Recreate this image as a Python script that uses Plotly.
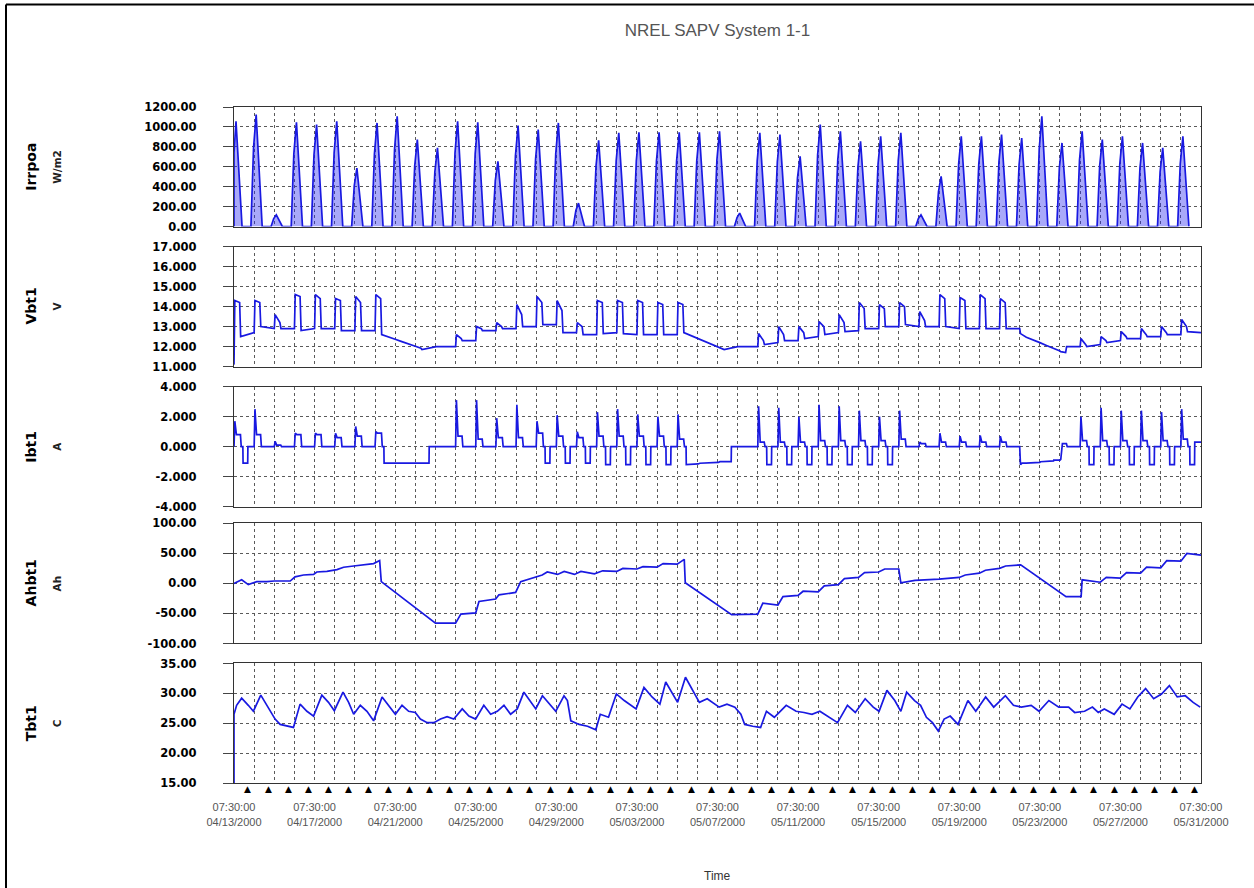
import numpy as np
import pandas as pd
import plotly.graph_objects as go
from plotly.subplots import make_subplots

START = pd.Timestamp("2000-04-13 07:30:00")
N_DAYS = 48

# ---------------- Irrpoa (W/m2): per-day readings ----------------
irr_peak = [1057, 1124, 117, 1047, 1023, 1057, 587, 1040, 1107, 872, 789, 1057,
            1047, 654, 1013, 973, 1040, 235, 866, 940, 946, 946, 946, 946,
            956, 134, 940, 923, 705, 1023, 956, 856, 906, 940, 117, 503,
            906, 906, 923, 889, 1107, 839, 956, 872, 906, 839, 789, 906]
irr_am = [740, 790, 80, 730, 720, 740, 410, 730, 780, 610, 550, 740,
          730, 460, 710, 680, 730, 160, 610, 660, 660, 660, 660, 660,
          670, 90, 660, 650, 490, 720, 670, 600, 630, 660, 80, 350,
          630, 630, 650, 620, 780, 590, 670, 610, 630, 590, 550, 630]
irr_pm = [530, 560, 60, 520, 510, 530, 290, 520, 550, 440, 400, 530,
          520, 330, 510, 490, 520, 120, 430, 470, 470, 470, 470, 470,
          480, 70, 470, 460, 350, 510, 480, 430, 450, 470, 60, 250,
          450, 450, 460, 440, 550, 420, 480, 440, 450, 420, 390, 450]
irr_night = [0] * N_DAYS

# ---------------- Vbt1 (V): per-day readings ----------------
vbt_start = [11.1, 12.7, 12.9, 12.9, 12.9, 12.9, 12.8, 12.8, 12.37, 12.02, 12.0, 12.0,
             12.3, 12.8, 12.9, 13.0, 13.1, 12.7, 12.6, 12.7, 12.6, 12.6, 12.6, 12.42,
             12.0, 12.0, 12.0, 12.2, 12.3, 12.5, 12.7, 12.8, 12.9, 13.0, 13.0, 13.0,
             12.9, 12.9, 12.9, 12.9, 12.2, 11.78, 12.0, 12.1, 12.3, 12.4, 12.5, 12.6]
vbt_on = [14.3, 14.3, 13.6, 14.6, 14.6, 14.4, 14.5, 14.6, 12.36, 12.0, 12.0, 12.6,
          13.0, 13.2, 14.1, 14.5, 14.3, 13.2, 14.3, 14.3, 14.3, 14.2, 14.2, 12.40,
          11.98, 12.0, 12.65, 13.0, 13.0, 13.25, 13.6, 14.2, 14.1, 14.2, 13.75, 14.6,
          14.45, 14.6, 14.4, 12.65, 12.18, 11.75, 12.4, 12.5, 12.75, 12.9, 13.0, 13.35]
vbt_off = [14.2, 14.2, 13.2, 14.5, 14.4, 14.3, 14.2, 14.4, 12.27, 11.92, 12.0, 12.4,
           12.9, 13.0, 13.6, 14.2, 13.8, 13.0, 14.2, 14.2, 14.2, 14.1, 14.1, 12.30,
           11.88, 12.0, 12.3, 12.6, 12.7, 13.0, 13.2, 13.9, 13.9, 14.0, 13.3, 14.4,
           14.3, 14.4, 14.2, 12.5, 12.08, 11.7, 12.1, 12.3, 12.5, 12.6, 12.7, 13.0]
vbt_eve = [12.5, 13.0, 12.9, 12.8, 12.9, 12.8, 12.8, 12.6, 12.25, 11.85, 12.0, 12.3,
           12.8, 12.9, 13.0, 13.1, 12.7, 12.6, 12.65, 12.65, 12.6, 12.6, 12.7, 12.28,
           11.85, 12.0, 12.1, 12.3, 12.4, 12.6, 12.75, 12.9, 13.0, 13.1, 13.0, 13.0,
           12.9, 12.9, 12.9, 12.47, 12.06, 12.0, 12.0, 12.2, 12.4, 12.5, 12.6, 12.75]
vbt_end = 12.7

# ---------------- Ibt1 (A): per-day readings ----------------
ibt_peak = [1.7, 2.5, 0.35, 0.9, 0.9, 0.9, 1.35, 1.0, -1.1, -1.1, 0.0, 3.1,
            3.1, 1.9, 2.8, 1.7, 2.1, 1.0, 2.3, 2.5, 2.15, 2.0, 2.15, -1.15,
            -1.05, 0.0, 2.7, 2.6, 2.0, 2.8, 2.7, 2.4, 2.0, 2.4, 0.3, 0.9,
            0.7, 0.75, 0.7, -1.2, -1.0, -0.85, 2.0, 2.6, 2.4, 2.4, 2.3, 2.5]
ibt_mid = [0.8, 0.8, 0.1, 0.8, 0.8, 0.6, 0.7, 0.9, -1.1, -1.1, 0.0, 0.7,
           0.5, 0.6, 0.6, 0.9, 0.7, 0.6, 0.7, 0.7, 0.7, 0.7, 0.5, -1.1,
           -1.0, 0.0, 0.3, 0.3, 0.3, 0.4, 0.4, 0.4, 0.4, 0.5, 0.2, 0.3,
           0.3, 0.3, 0.3, -1.1, -1.0, 0.2, 0.4, 0.4, 0.4, 0.4, 0.4, 0.5]
ibt_eve = [-1.1, 0.0, 0.0, 0.0, 0.0, 0.0, 0.0, -1.1, -1.1, -1.1, 0.0, 0.0,
           0.0, 0.0, 0.0, -1.1, -1.1, -1.1, -1.2, -1.2, -1.2, -1.2, -1.2, -1.1,
           -1.0, 0.0, -1.2, -1.2, -1.2, -1.2, -1.2, -1.2, -1.2, 0.0, 0.0, 0.0,
           0.0, 0.0, 0.0, -1.1, -0.95, 0.0, -1.2, -1.2, -1.2, -1.2, -1.2, -1.2]
ibt_night = [0.0, 0.0, 0.0, 0.0, 0.0, 0.0, 0.0, -1.1, -1.1, 0.0, 0.0, 0.0,
             0.0, 0.0, 0.0, 0.0, 0.0, 0.0, 0.0, 0.0, 0.0, 0.0, -1.2, -1.1,
             0.0, 0.0, 0.0, 0.0, 0.0, 0.0, 0.0, 0.0, 0.0, 0.0, 0.0, 0.0,
             0.0, 0.0, 0.0, -1.05, -0.9, 0.0, 0.0, 0.0, 0.0, 0.0, 0.0, 0.3]

# ---------------- Ahbt1 (Ah): readings (day offset, value) ----------------
ah_day = [0.0, 0.38, 0.71, 1.13, 1.63, 2.0, 2.79, 3.03, 3.45, 3.95, 4.11, 4.61,
          5.11, 5.44, 5.94, 6.35, 6.93, 7.23, 7.31, 10.0, 11.0, 11.26, 12.0, 12.16,
          12.99, 13.15, 13.98, 14.23, 14.97, 15.3, 15.55, 16.06, 16.39, 16.9, 17.22, 17.89,
          18.3, 19.0, 19.3, 20.0, 20.3, 21.0, 21.3, 22.0, 22.35, 22.4, 24.7, 26.0,
          26.25, 27.0, 27.25, 28.0, 28.25, 29.0, 29.3, 30.0, 30.3, 31.0, 31.3, 32.0,
          32.3, 33.0, 33.1, 33.8, 35.0, 36.0, 36.3, 37.0, 37.3, 38.0, 38.3, 39.05,
          41.3, 42.05, 42.1, 42.5, 43.0, 43.3, 44.0, 44.3, 45.0, 45.3, 46.0, 46.3,
          47.0, 47.3, 48.0]
ah_val = [0, 6, -2, 3, 3, 4, 4, 11, 14, 15, 19, 20,
          23, 27, 29, 31, 33, 38, 3, -66, -66, -51, -49, -30,
          -26, -19, -15, 3, 11, 14, 19, 15, 20, 15, 20, 16,
          21, 20, 25, 24, 28, 27, 33, 32, 40, 1, -52, -51,
          -33, -36, -22, -20, -13, -14, -4, -2, 8, 10, 18, 19,
          24, 24, 1, 5, 7, 10, 14, 17, 22, 25, 29, 31,
          -22, -22, 6, 4, 2, 10, 9, 18, 17, 27, 26, 38,
          37, 50, 47]

# ---------------- Tbt1 (C): readings (day offset, value) ----------------
tbt_day = [0.0, 0.0, 0.13, 0.38, 0.71, 0.96, 1.33, 1.63, 2.04, 2.29, 2.62, 2.95,
           3.28, 3.62, 3.95, 4.36, 4.69, 4.98, 5.41, 5.69, 5.94, 6.27, 6.6, 6.93,
           7.35, 7.68, 8.01, 8.34, 8.67, 9.0, 9.25, 9.59, 9.92, 10.25, 10.58, 10.91,
           11.33, 11.66, 11.99, 12.4, 12.74, 13.07, 13.4, 13.73, 14.06, 14.39, 14.73, 14.98,
           15.31, 15.64, 15.97, 16.38, 16.55, 16.72, 17.13, 17.55, 17.96, 18.18, 18.59, 18.98,
           19.37, 19.96, 20.35, 20.75, 21.14, 21.43, 21.73, 22.02, 22.41, 22.8, 23.1, 23.49,
           24.08, 24.47, 24.86, 25.16, 25.35, 25.75, 26.14, 26.43, 26.82, 27.41, 27.9, 28.29,
           28.69, 29.08, 29.47, 29.96, 30.45, 30.84, 31.33, 31.73, 32.02, 32.41, 32.8, 33.1,
           33.39, 33.78, 34.08, 34.37, 34.67, 34.96, 35.25, 35.55, 35.94, 36.43, 36.82, 37.31,
           37.71, 38.29, 38.69, 39.08, 39.57, 39.96, 40.45, 40.94, 41.43, 41.73, 42.22, 42.61,
           42.9, 43.2, 43.69, 44.08, 44.47, 44.86, 45.25, 45.65, 46.04, 46.43, 46.82, 47.22,
           47.61, 47.96]
tbt_val = [15.0, 26.5, 28.0, 29.2, 28.0, 27.0, 29.7, 28.0, 25.7, 24.8, 24.5, 24.3,
           28.2, 27.0, 26.2, 29.7, 28.5, 27.1, 30.2, 28.5, 26.5, 28.0, 27.0, 25.4,
           29.4, 28.0, 26.5, 28.0, 27.0, 26.8, 25.7, 25.1, 25.1, 25.7, 26.1, 25.7,
           27.4, 26.2, 25.7, 28.0, 26.5, 27.0, 28.0, 26.5, 27.4, 30.2, 28.5, 27.4,
           29.6, 28.2, 27.0, 29.6, 28.8, 25.4, 24.8, 24.5, 23.9, 26.5, 26.0, 29.9,
           28.8, 27.4, 31.0, 29.4, 28.2, 31.9, 30.2, 28.5, 32.7, 30.2, 28.5, 29.1,
           27.7, 28.2, 27.7, 26.5, 24.8, 24.5, 24.3, 27.0, 26.0, 28.0, 27.0, 26.8,
           26.5, 27.0, 26.2, 25.1, 28.0, 26.8, 29.1, 27.7, 27.0, 30.5, 28.8, 27.0,
           30.2, 28.8, 28.0, 26.0, 25.1, 23.7, 25.7, 26.2, 24.8, 28.8, 27.0, 29.4,
           27.7, 29.6, 28.0, 27.7, 28.0, 27.0, 28.8, 27.7, 27.7, 26.8, 27.0, 27.7,
           26.8, 27.4, 26.5, 28.2, 27.4, 29.4, 30.8, 29.1, 29.9, 31.3, 29.4, 29.6,
           28.5, 27.7]

# ---------------- axis setup ----------------
irr_ticks = [0, 200, 400, 600, 800, 1000, 1200]
vbt_ticks = [11, 12, 13, 14, 15, 16, 17]
ibt_ticks = [-4, -2, 0, 2, 4]
ah_ticks = [-100, -50, 0, 50, 100]
tbt_ticks = [15, 20, 25, 30, 35]
series_names = ["Irrpoa", "Vbt1", "Ibt1", "Ahbt1", "Tbt1"]
series_units = ["W/m2", "V", "A", "Ah", "C"]
x_label_every_days = 4


def daily(points, end_value=None):
    xs, ys = [], []
    for d in range(N_DAYS):
        for off, vals in points:
            xs.append(min(max(d + off, 0.0), float(N_DAYS)))
            ys.append(vals[d])
    if end_value is not None:
        xs.append(float(N_DAYS))
        ys.append(end_value)
    return xs, ys


def to_time(days):
    return START + pd.to_timedelta(np.asarray(days, dtype=float), unit="D")


irr_x, irr_y = daily([(-0.16, irr_night), (-0.03, irr_am), (0.10, irr_peak),
                      (0.24, irr_pm), (0.40, irr_night)])
vbt_x, vbt_y = daily([(0.0, vbt_start), (0.04, vbt_on), (0.28, vbt_off),
                      (0.33, vbt_eve)], vbt_end)
ibt_prev = [0.0] + ibt_night[:-1]
ibt_base = [0.0 if m >= 0 else m for m in ibt_mid]
ibt_x, ibt_y = daily([(0.0, ibt_prev), (0.04, ibt_peak), (0.12, ibt_mid),
                      (0.32, ibt_mid), (0.36, ibt_base), (0.44, ibt_base),
                      (0.45, ibt_eve), (0.68, ibt_eve), (0.69, ibt_night)],
                     ibt_night[-1])

# pixel layout
W, H = 1254, 888
PL, PR = 234, 1201
PT, PB = 107.3, 782.7
row_px = [(107.3, 226.7), (246.7, 366.7), (386.7, 506.7), (523.3, 643.3), (663.3, 782.7)]


def py(p):
    return (PB - p) / (PB - PT)


def px(p):
    return (p - PL) / (PR - PL)


fig = make_subplots(rows=5, cols=1, shared_xaxes=True, vertical_spacing=0.02)

LINE = dict(color="rgb(25,25,225)", width=1.7)
fig.add_trace(go.Scatter(x=to_time(irr_x), y=irr_y, mode="lines", line=LINE,
                         fill="tozeroy", fillcolor="rgba(40,40,240,0.40)"), row=1, col=1)
fig.add_trace(go.Scatter(x=to_time(vbt_x), y=vbt_y, mode="lines", line=LINE), row=2, col=1)
fig.add_trace(go.Scatter(x=to_time(ibt_x), y=ibt_y, mode="lines", line=LINE), row=3, col=1)
fig.add_trace(go.Scatter(x=to_time(ah_day), y=ah_val, mode="lines", line=LINE), row=4, col=1)
fig.add_trace(go.Scatter(x=to_time(tbt_day), y=tbt_val, mode="lines", line=LINE), row=5, col=1)

GRID = "#5a5a5a"
DASH = "3px,3px"
DAY_MS = 86400000
end_time = START + pd.Timedelta(days=N_DAYS)
tick0 = START.strftime("%Y-%m-%d %H:%M:%S")

for i in range(1, 6):
    fig.update_xaxes(
        row=i, col=1, type="date",
        range=[START, end_time],
        tick0=tick0, dtick=x_label_every_days * DAY_MS,
        tickformat="%H:%M:%S<br>%m/%d/%Y",
        showticklabels=(i == 5), ticks="",
        tickfont=dict(family="Liberation Sans", size=11, color="#555"),
        ticklabelstandoff=14,
        showgrid=True, gridcolor=GRID, griddash=DASH, gridwidth=1,
        minor=dict(dtick=DAY_MS, tick0=tick0,
                   showgrid=True, gridcolor=GRID, griddash=DASH, gridwidth=1),
        showline=True, mirror=True, linecolor="#333", linewidth=1.2,
    )

ycfg = [(irr_ticks, 2), (vbt_ticks, 3), (ibt_ticks, 3), (ah_ticks, 2), (tbt_ticks, 2)]
annotations = []
for i, ((ticks, ndec), (top, bot)) in enumerate(zip(ycfg, row_px), start=1):
    fig.update_yaxes(
        row=i, col=1, range=[ticks[0], ticks[-1]], tickvals=ticks,
        ticktext=[f"{t:.{ndec}f}" for t in ticks],
        domain=[py(bot), py(top)],
        ticks="outside", ticklen=10, tickcolor="#444",
        tickfont=dict(family="DejaVu Sans", size=11.5, color="black", weight="bold"),
        ticklabelstandoff=24,
        showgrid=True, gridcolor=GRID, griddash=DASH, gridwidth=1,
        zeroline=False,
        showline=True, mirror=True, linecolor="#333", linewidth=1.2,
    )
    yc = py((top + bot) / 2)
    annotations.append(dict(text=series_names[i - 1], x=px(31), y=yc, xref="paper", yref="paper",
                            textangle=-90, showarrow=False, xanchor="center", yanchor="middle",
                            font=dict(family="DejaVu Sans", size=14, color="black", weight="bold")))
    annotations.append(dict(text=series_units[i - 1], x=px(57), y=yc, xref="paper", yref="paper",
                            textangle=-90, showarrow=False, xanchor="center", yanchor="middle",
                            font=dict(family="DejaVu Sans", size=10.5, color="#222", weight="bold")))

# midnight date-change markers below the time axis
midnights = pd.date_range(START.normalize() + pd.Timedelta(days=1), periods=N_DAYS, freq="D")
for m in midnights:
    annotations.append(dict(text="▲", x=m, y=py(789), xref="x5", yref="paper",
                            showarrow=False, xanchor="center", yanchor="middle",
                            font=dict(family="DejaVu Sans", size=9, color="black")))

annotations.append(dict(text="Time", x=0.5, y=py(876), xref="paper", yref="paper",
                        showarrow=False, xanchor="center", yanchor="middle",
                        font=dict(family="Liberation Sans", size=12, color="#333")))

border = dict(color="black", width=2)
fig.update_layout(
    width=W, height=H,
    margin=dict(l=PL, r=W - PR, t=PT, b=H - PB),
    plot_bgcolor="white", paper_bgcolor="white",
    showlegend=False,
    title=dict(text="NREL SAPV System 1-1", x=0.5, xref="paper", xanchor="center",
               y=1 - 30 / H, yref="container", yanchor="middle",
               font=dict(family="Liberation Sans", size=17, color="#555")),
    annotations=annotations,
    shapes=[dict(type="line", xref="paper", yref="paper", x0=px(6), x1=px(1260),
                 y0=py(5), y1=py(5), line=border, layer="above"),
            dict(type="line", xref="paper", yref="paper", x0=px(6), x1=px(6),
                 y0=py(5), y1=py(900), line=border, layer="above")],
)

fig.write_html("out.html")
